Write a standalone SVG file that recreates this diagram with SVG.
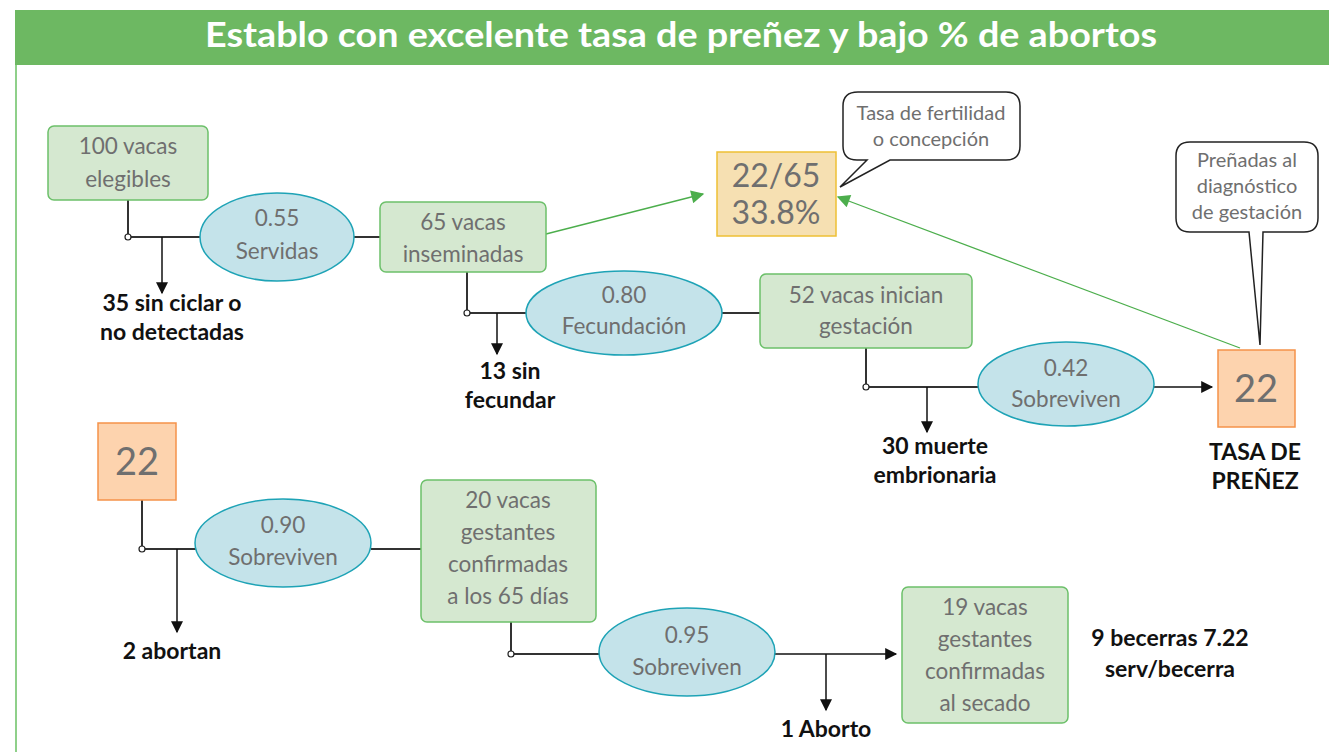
<svg xmlns="http://www.w3.org/2000/svg" width="1329" height="752" viewBox="0 0 1329 752">
<defs>
<style>
.bx{fill:#d5e8d0;stroke:#6cc06a;stroke-width:1.5}
.el{fill:#c4e3ea;stroke:#1ea3b6;stroke-width:1.5}
.or{fill:#fdd3ae;stroke:#f5924a;stroke-width:1.5}
.ye{fill:#f6e0b2;stroke:#eec035;stroke-width:1.5}
.co{fill:#fff;stroke:#222;stroke-width:1.5}
.t{font-family:"Lato","Liberation Sans",sans-serif;font-size:22.5px;fill:#6f6f6f;text-anchor:middle}
.tb{font-family:"Lato","Liberation Sans",sans-serif;font-size:32px;fill:#6f6f6f;text-anchor:middle}
.tg{font-family:"Lato","Liberation Sans",sans-serif;font-size:38px;fill:#6f6f6f;text-anchor:middle}
.ts{font-family:"Lato","Liberation Sans",sans-serif;font-size:20px;fill:#6f6f6f;text-anchor:middle}
.k{font-family:"Lato","Liberation Sans",sans-serif;font-size:23px;font-weight:bold;fill:#111;text-anchor:middle}
.ln{stroke:#333;stroke-width:2;fill:none}
.ar{stroke:#111;stroke-width:1.5;fill:none}
.gr{stroke:#4cae4c;stroke-width:1.3;fill:none}
.dot{fill:#fff;stroke:#222;stroke-width:1.2}
</style>
<marker id="ab" viewBox="0 0 10 10" refX="9" refY="5" markerWidth="17" markerHeight="12" markerUnits="userSpaceOnUse" orient="auto"><path d="M0,0L10,5L0,10Z" fill="#111"/></marker>
<marker id="ag" viewBox="0 0 10 10" refX="9" refY="5" markerWidth="16" markerHeight="13" markerUnits="userSpaceOnUse" orient="auto"><path d="M0,0L10,5L0,10Z" fill="#4cae4c"/></marker>
</defs>
<rect x="0" y="0" width="1329" height="752" fill="#fff"/>
<rect x="15" y="10" width="1314" height="55" fill="#6db862"/>
<line x1="16" y1="65" x2="16" y2="752" stroke="#8fd08a" stroke-width="2"/>
<text x="681" y="47" font-family="Lato,'Liberation Sans',sans-serif" font-size="35" font-weight="bold" fill="#fff" text-anchor="middle" textLength="952" lengthAdjust="spacingAndGlyphs">Establo con excelente tasa de preñez y bajo % de abortos</text>

<g id="connectors">
<path class="ln" d="M128,200V237H200"/>
<path class="ln" d="M353,237H380"/>
<path class="ar" d="M162,237V293" marker-end="url(#ab)"/>
<path class="gr" d="M546,234L703,194" marker-end="url(#ag)"/>
<path class="gr" d="M1240,348L838,197" marker-end="url(#ag)"/>
<path class="ln" d="M467,272V313H527"/>
<path class="ln" d="M722,313H760"/>
<path class="ar" d="M497,313V354" marker-end="url(#ab)"/>
<path class="ln" d="M866,348V387H978"/>
<path class="ar" d="M927,387V432" marker-end="url(#ab)"/>
<path class="ar" d="M1154,387H1212" marker-end="url(#ab)"/>
<path class="ln" d="M142,500V549H196"/>
<path class="ar" d="M177,549V632" marker-end="url(#ab)"/>
<path class="ln" d="M371,549H421"/>
<path class="ln" d="M511,622V654H600"/>
<path class="ar" d="M775,654H896" marker-end="url(#ab)"/>
<path class="ar" d="M826,654V710" marker-end="url(#ab)"/>
<circle class="dot" cx="128" cy="237" r="3"/>
<circle class="dot" cx="467" cy="313" r="3"/>
<circle class="dot" cx="866" cy="387" r="3"/>
<circle class="dot" cx="142" cy="549" r="3"/>
<circle class="dot" cx="511" cy="654" r="3"/>
</g>

<g id="n100"><rect class="bx" x="48" y="126" width="160" height="74" rx="6"/><text class="t" x="128" y="154">100 vacas</text><text class="t" x="128" y="187">elegibles</text></g>
<g id="e055"><ellipse class="el" cx="277" cy="237" rx="77" ry="44"/><text class="t" x="277" y="226">0.55</text><text class="t" x="277" y="259">Servidas</text></g>
<g id="n65"><rect class="bx" x="380" y="202" width="166" height="70" rx="6"/><text class="t" x="463" y="230">65 vacas</text><text class="t" x="463" y="262">inseminadas</text></g>
<g id="nrate"><rect class="ye" x="717" y="152" width="119" height="84"/><text class="tb" x="776" y="187">22/65</text><text class="tb" x="776" y="224">33.8%</text></g>
<g id="call1"><path class="co" d="M858,92H1006Q1020,92 1020,106V146Q1020,160 1006,160H890L840,187L867,160H857Q843,160 843,146V106Q843,92 858,92Z"/><text class="ts" x="931" y="120">Tasa de fertilidad</text><text class="ts" x="931" y="146">o concepción</text></g>
<g id="e080"><ellipse class="el" cx="624" cy="313" rx="98" ry="42"/><text class="t" x="624" y="303">0.80</text><text class="t" x="624" y="334">Fecundación</text></g>
<g id="l13"><text class="k" x="510" y="379">13 sin</text><text class="k" x="510" y="408">fecundar</text></g>
<g id="l35"><text class="k" x="172" y="311">35 sin ciclar o</text><text class="k" x="172" y="340">no detectadas</text></g>
<g id="n52"><rect class="bx" x="760" y="274" width="212" height="74" rx="6"/><text class="t" x="866" y="303">52 vacas inician</text><text class="t" x="866" y="334">gestación</text></g>
<g id="e042"><ellipse class="el" cx="1066" cy="384" rx="88" ry="42"/><text class="t" x="1066" y="376">0.42</text><text class="t" x="1066" y="407">Sobreviven</text></g>
<g id="l30"><text class="k" x="935" y="454">30 muerte</text><text class="k" x="935" y="483">embrionaria</text></g>
<g id="n22a"><rect class="or" x="1218" y="350" width="77" height="77"/><text class="tg" x="1256" y="402">22</text></g>
<g id="lTasa"><text class="k" x="1255" y="460">TASA DE</text><text class="k" x="1255" y="489">PREÑEZ</text></g>
<g id="call2"><path class="co" d="M1190,142H1304Q1318,142 1318,156V218Q1318,232 1304,232H1263L1260,345L1249,232H1190Q1176,232 1176,218V156Q1176,142 1190,142Z"/><text class="ts" x="1247" y="167">Preñadas al</text><text class="ts" x="1247" y="193">diagnóstico</text><text class="ts" x="1247" y="219">de gestación</text></g>

<g id="n22b"><rect class="or" x="98" y="423" width="78" height="77"/><text class="tg" x="137" y="475">22</text></g>
<g id="e090"><ellipse class="el" cx="283" cy="543" rx="88" ry="44"/><text class="t" x="283" y="533">0.90</text><text class="t" x="283" y="565">Sobreviven</text></g>
<g id="l2"><text class="k" x="172" y="659">2 abortan</text></g>
<g id="n20"><rect class="bx" x="421" y="480" width="175" height="142" rx="6"/><text class="t" x="508" y="508">20 vacas</text><text class="t" x="508" y="540">gestantes</text><text class="t" x="508" y="572">confirmadas</text><text class="t" x="508" y="604">a los 65 días</text></g>
<g id="e095"><ellipse class="el" cx="687" cy="652" rx="88" ry="44"/><text class="t" x="687" y="643">0.95</text><text class="t" x="687" y="675">Sobreviven</text></g>
<g id="l1"><text class="k" x="826" y="737">1 Aborto</text></g>
<g id="n19"><rect class="bx" x="902" y="587" width="166" height="136" rx="6"/><text class="t" x="985" y="615">19 vacas</text><text class="t" x="985" y="647">gestantes</text><text class="t" x="985" y="679">confirmadas</text><text class="t" x="985" y="711">al secado</text></g>
<g id="l9"><text class="k" x="1170" y="646">9 becerras 7.22</text><text class="k" x="1170" y="677">serv/becerra</text></g>
</svg>
